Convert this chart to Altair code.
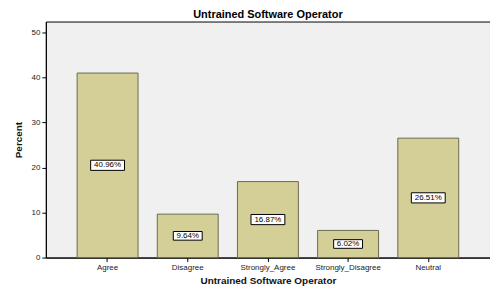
import altair as alt
import pandas as pd

categories = ["Agree", "Disagree", "Strongly_Agree", "Strongly_Disagree", "Neutral"]
percent = [40.96, 9.64, 16.87, 6.02, 26.51]

df = pd.DataFrame({"cat": categories, "pct": percent})
df["label"] = [f"{v:.2f}%" for v in percent]
df["half"] = df["pct"] / 2
df["boxsize"] = [(len(s) * 5.0 + 4) ** 2 for s in df["label"]]

FONT = "Liberation Sans"

x = alt.X("cat:N", sort=categories,
          scale=alt.Scale(paddingInner=0.24, paddingOuter=0.39),
          axis=alt.Axis(title="Untrained Software Operator", labelAngle=0,
                        labelFontSize=8, labelColor="#222", labelFont=FONT,
                        titleFont=FONT, titleFontSize=10, titleFontWeight="bold",
                        titleColor="#111", titlePadding=4, tickSize=4,
                        domainColor="#000", tickColor="#000", labelPadding=2))

base = alt.Chart(df)

bars = base.mark_bar(fill="#d4ce97", stroke="#6b6a50", strokeWidth=1).encode(
    x=x,
    y=alt.Y("pct:Q", scale=alt.Scale(domain=[0, 52.4], nice=False),
            axis=alt.Axis(title="Percent", values=[0, 10, 20, 30, 40, 50],
                          labelFontSize=8, labelColor="#222", labelFont=FONT,
                          titleFont=FONT, titleFontSize=10, titleFontWeight="bold",
                          titleColor="#111", tickSize=4, grid=False,
                          domainColor="#000", tickColor="#000", titlePadding=8,
                          labelPadding=2)),
)

boxes = base.mark_point(
    shape="M-1,-0.3L1,-0.3L1,0.3L-1,0.3Z", filled=True, fill="white",
    stroke="#000", strokeWidth=1, opacity=1,
).encode(
    x=x,
    y=alt.Y("half:Q"),
    size=alt.Size("boxsize:Q", scale=None, legend=None),
)

labels = base.mark_text(fontSize=8, font=FONT, color="#000").encode(
    x=x,
    y=alt.Y("half:Q"),
    text="label:N",
)

chart = (bars + boxes + labels).properties(
    width=446, height=237,
    title=alt.TitleParams("Untrained Software Operator", fontSize=11,
                          font=FONT, fontWeight="bold", color="#000", offset=2),
    autosize=alt.AutoSizeParams(type="none"),
    padding={"left": 38, "top": 13, "right": 0, "bottom": 32},
    background="white",
).configure_view(fill="#f0f0f0", stroke="#000", strokeWidth=1)

chart.save("out.html", embed_options={"renderer": "svg", "actions": False})
